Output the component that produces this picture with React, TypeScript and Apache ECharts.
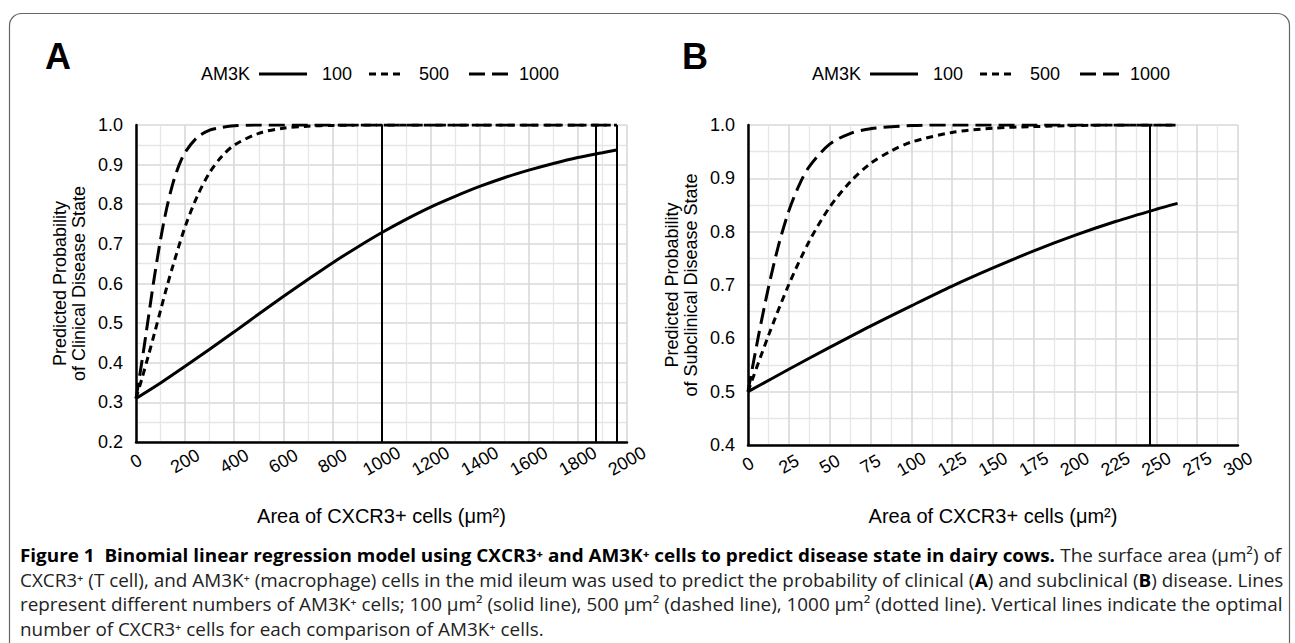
import React, { useEffect, useRef } from "react";
import * as echarts from "echarts";

// ---------- data ----------
const panelLetters = ["A", "B"];
const legendTitle = "AM3K";
const seriesNames = ["100", "500", "1000"];

// Panel A (clinical)
const xA100 = [0, 100, 200, 300, 400, 500, 600, 700, 800, 900, 1000, 1100, 1200, 1300, 1400, 1500, 1600, 1700, 1800, 1900, 1958];
const yA100 = [0.31, 0.349, 0.391, 0.434, 0.478, 0.523, 0.567, 0.61, 0.652, 0.691, 0.728, 0.762, 0.793, 0.82, 0.845, 0.867, 0.886, 0.903, 0.918, 0.93, 0.937];
const xA500 = [0, 25, 50, 75, 100, 125, 150, 200, 250, 300, 350, 400, 500, 600, 700, 800, 1000, 1200, 1400, 1600, 1800, 1958];
const yA500 = [0.31, 0.362, 0.417, 0.474, 0.532, 0.59, 0.644, 0.743, 0.821, 0.88, 0.921, 0.949, 0.979, 0.992, 0.997, 0.999, 1.0, 1.0, 1.0, 1.0, 1.0, 1.0];
const xA1000 = [0, 25, 50, 75, 100, 125, 150, 175, 200, 250, 300, 350, 400, 500, 700, 1000, 1400, 1800, 1958];
const yA1000 = [0.31, 0.407, 0.512, 0.617, 0.711, 0.79, 0.852, 0.898, 0.931, 0.969, 0.987, 0.994, 0.998, 1.0, 1.0, 1.0, 1.0, 1.0, 1.0];
const vLinesA = [1000, 1874, 1958];

// Panel B (subclinical)
const xB100 = [0, 25, 50, 75, 100, 125, 150, 175, 200, 225, 250, 263];
const yB100 = [0.5, 0.542, 0.583, 0.623, 0.661, 0.698, 0.732, 0.764, 0.793, 0.819, 0.842, 0.853];
const xB500 = [0, 12.5, 25, 37.5, 50, 62.5, 75, 87.5, 100, 125, 150, 175, 200, 225, 263];
const yB500 = [0.5, 0.605, 0.701, 0.782, 0.846, 0.893, 0.928, 0.951, 0.968, 0.986, 0.994, 0.997, 0.999, 1.0, 1.0];
const xB1000 = [0, 6.25, 12.5, 18.75, 25, 31.25, 37.5, 50, 62.5, 75, 100, 125, 175, 225, 263];
const yB1000 = [0.5, 0.602, 0.695, 0.775, 0.839, 0.887, 0.922, 0.964, 0.984, 0.993, 0.999, 1.0, 1.0, 1.0, 1.0];
const vLinesB = [246];

const yTitleA = "Predicted Probability\nof Clinical Disease State";
const yTitleB = "Predicted Probability\nof Subclinical Disease State";
const xTitle = "Area of CXCR3+ cells (μm²)";

const captionLines: [string, boolean][][] = [
  [
    ["Figure 1  Binomial linear regression model using CXCR3⁺ and AM3K⁺ cells to predict disease state in dairy cows.", true],
    [" The surface area (μm²) of", false],
  ],
  [
    ["CXCR3⁺ (T cell), and AM3K⁺ (macrophage) cells in the mid ileum was used to predict the probability of clinical (", false],
    ["A", true],
    [") and subclinical (", false],
    ["B", true],
    [") disease. Lines", false],
  ],
  [
    ["represent different numbers of AM3K⁺ cells; 100 μm² (solid line), 500 μm² (dashed line), 1000 μm² (dotted line). Vertical lines indicate the optimal", false],
  ],
  [["number of CXCR3⁺ cells for each comparison of AM3K⁺ cells.", false]],
];

// ---------- helpers ----------
const pairs = (xs: number[], ys: number[]) => xs.map((x, i) => [x, ys[i]]);
const FONT = '"Liberation Sans", Arial, Helvetica, sans-serif';
const CAP_FONT = '"Open Sans", "Noto Sans", sans-serif';
const CAP_SIZE = 18;
const dashes: Record<string, any> = { "100": "solid", "500": [7, 5], "1000": [16, 7] };

function measureLine(line: [string, boolean][]) {
  const c = document.createElement("canvas").getContext("2d");
  if (!c) return 1000;
  let w = 0;
  for (const [t, b] of line) {
    c.font = `${b ? "bold " : ""}${CAP_SIZE}px ${CAP_FONT}`;
    w += c.measureText(t).width;
  }
  return w;
}

// legend layout (relative to legend origin): [iconStart, iconEnd, textStart]
const legendSlots = [
  [58, 106, 121],
  [168, 199, 218],
  [268, 307, 318],
];

function legendGraphics(x0: number, y: number) {
  const out: any[] = [
    { type: "text", x: x0, y, style: { text: legendTitle, font: `18px ${FONT}`, fill: "#000", verticalAlign: "middle" } },
  ];
  seriesNames.forEach((name, i) => {
    const [a, b, t] = legendSlots[i];
    const d = dashes[name];
    out.push({
      type: "line",
      shape: { x1: x0 + a, y1: y, x2: x0 + b, y2: y },
      style: { stroke: "#000", lineWidth: 3, lineDash: Array.isArray(d) ? d : null, lineCap: "butt" },
      silent: true,
    });
    out.push({ type: "text", x: x0 + t, y, style: { text: name, font: `18px ${FONT}`, fill: "#000", verticalAlign: "middle" } });
  });
  return out;
}

export default function App() {
  const ref = useRef<HTMLDivElement>(null);
  useEffect(() => {
    if (!ref.current) return;
    document.body.style.margin = "0";
    const chart = echarts.init(ref.current, null, { renderer: "svg" });

    const grids = [
      { left: 136, top: 125, width: 491, height: 317 },
      { left: 748, top: 125, width: 490, height: 320 },
    ];

    const mkX = (gi: number, max: number, interval: number) => ({
      type: "value",
      gridIndex: gi,
      min: 0,
      max,
      interval,
      name: xTitle,
      nameLocation: "middle",
      nameGap: gi === 0 ? 64 : 61,
      nameTextStyle: { fontSize: 20, color: "#000", fontFamily: FONT },
      axisLine: { show: true, onZero: false, lineStyle: { color: "#000", width: 2.5 } },
      axisTick: { show: false },
      axisLabel: {
        rotate: 30,
        align: "center",
        verticalAlign: "middle",
        margin: 19,
        fontSize: 18,
        color: "#000",
        fontFamily: FONT,
        formatter: (v: number) => String(v),
      },
      splitLine: { show: true, lineStyle: { color: "#d9d9d9", width: 1.6 } },
      minorTick: { show: false, splitNumber: 2 },
      minorSplitLine: { show: true, lineStyle: { color: "#e6e6e6", width: 1.3 } },
    });

    const mkY = (gi: number, min: number, name: string) => ({
      type: "value",
      gridIndex: gi,
      min,
      max: 1.0,
      interval: 0.1,
      name,
      nameLocation: "middle",
      nameRotate: 90,
      nameGap: 48,
      nameTextStyle: { fontSize: 18, lineHeight: 19, color: "#000", fontFamily: FONT },
      axisLine: { show: true, onZero: false, lineStyle: { color: "#000", width: 2.5 } },
      axisTick: { show: false },
      axisLabel: {
        margin: 13,
        fontSize: 18,
        color: "#000",
        fontFamily: FONT,
        formatter: (v: number) => v.toFixed(1),
      },
      splitLine: { show: true, lineStyle: { color: "#d9d9d9", width: 1.6 } },
      minorTick: { show: false, splitNumber: 2 },
      minorSplitLine: { show: true, lineStyle: { color: "#e6e6e6", width: 1.3 } },
    });

    const mkSeries = (name: string, gi: number, data: number[][], vlines?: number[]) => {
      const s: any = {
        name,
        type: "line",
        xAxisIndex: gi,
        yAxisIndex: gi,
        data,
        symbol: "none",
        showSymbol: false,
        smooth: 0.3,
        lineStyle: { color: "#000", width: 3, type: dashes[name], cap: "butt" },
        itemStyle: { color: "#000" },
        z: 3,
      };
      if (vlines) {
        s.markLine = {
          silent: true,
          symbol: ["none", "none"],
          label: { show: false },
          lineStyle: { color: "#000", width: 2, type: "solid" },
          data: vlines.map((v) => ({ xAxis: v })),
        };
      }
      return s;
    };

    // caption scale
    const target = 1263;
    const s = target / measureLine(captionLines[1]);

    const captionChildren = captionLines.map((line, i) => ({
      type: "text",
      x: 0,
      y: i * 24.5,
      style: {
        text: line.map(([t, b]) => `{${b ? "b" : "n"}|${t}}`).join(""),
        rich: {
          b: { fontWeight: "bold", fontSize: CAP_SIZE, fontFamily: CAP_FONT, fill: "#000" },
          n: { fontWeight: "normal", fontSize: CAP_SIZE, fontFamily: CAP_FONT, fill: "#222" },
        },
        verticalAlign: "middle",
        align: "left",
      },
    }));

    chart.setOption({
      animation: false,
      backgroundColor: "#fff",
      grid: grids.map((g) => ({ ...g, containLabel: false, outerBoundsMode: "none" })),
      xAxis: [mkX(0, 2000, 200), mkX(1, 300, 25)],
      yAxis: [mkY(0, 0.2, yTitleA), mkY(1, 0.4, yTitleB)],
      series: [
        mkSeries("100", 0, pairs(xA100, yA100), vLinesA),
        mkSeries("500", 0, pairs(xA500, yA500)),
        mkSeries("1000", 0, pairs(xA1000, yA1000)),
        mkSeries("100", 1, pairs(xB100, yB100), vLinesB),
        mkSeries("500", 1, pairs(xB500, yB500)),
        mkSeries("1000", 1, pairs(xB1000, yB1000)),
      ],
      graphic: [
        {
          type: "rect",
          shape: { x: 9.5, y: 13.5, width: 1280, height: 700, r: 12 },
          style: { fill: "none", stroke: "#666", lineWidth: 1.2 },
          silent: true,
        },
        {
          type: "text",
          x: 45,
          y: 38,
          style: { text: panelLetters[0], font: `bold 36px ${FONT}`, fill: "#000" },
        },
        {
          type: "text",
          x: 682,
          y: 38,
          style: { text: panelLetters[1], font: `bold 36px ${FONT}`, fill: "#000" },
        },
        ...legendGraphics(201, 74),
        ...legendGraphics(812, 74),
        {
          type: "group",
          x: 20,
          y: 555,
          scaleX: s,
          children: captionChildren,
        },
      ],
    });

    return () => chart.dispose();
  }, []);

  return <div ref={ref} style={{ position: "fixed", left: 0, top: 0, width: 1295, height: 643 }} />;
}
